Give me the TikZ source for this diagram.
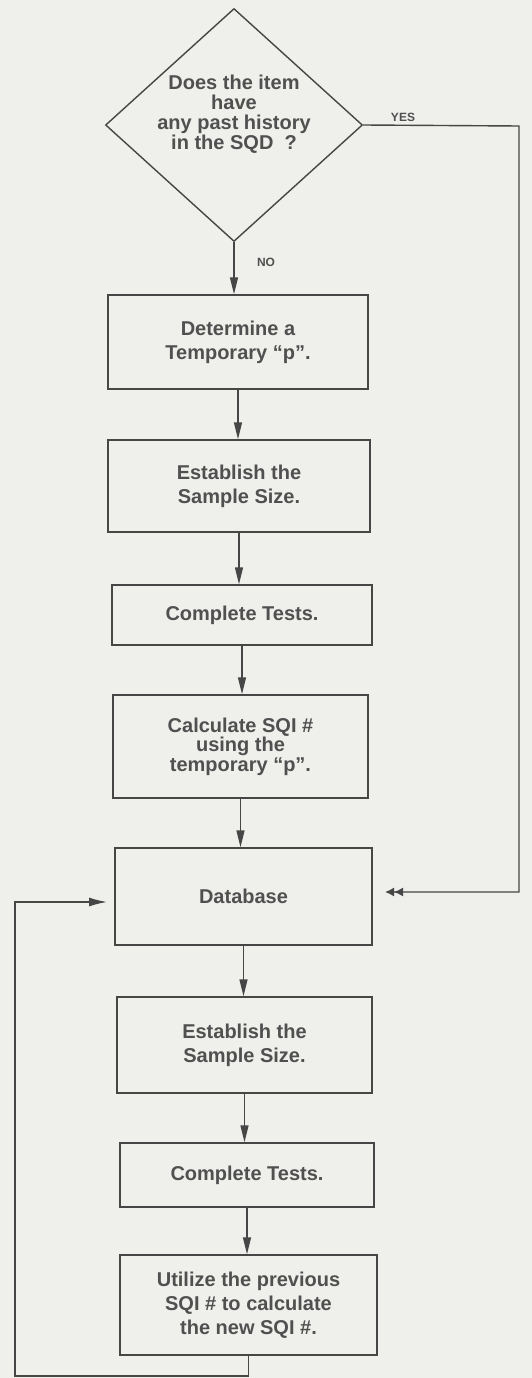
\documentclass[tikz,border=0pt]{standalone}
\usepackage{fontspec}
\setmainfont{Liberation Sans}
\usetikzlibrary{shapes.geometric,arrows.meta}
\definecolor{bgcol}{RGB}{239,239,236}
\definecolor{inkcol}{RGB}{70,70,70}
\definecolor{txtcol}{RGB}{80,80,80}
\tikzset{
  stepbox/.style={draw=inkcol, line width=1.4pt, inner sep=0pt, align=center,
    font=\bfseries\fontsize{20}{24}\selectfont, text=txtcol},
  flow/.style={draw=inkcol, line width=1.4pt, -{Triangle[length=17pt,width=8pt]}},
  loopline/.style={draw=inkcol, line width=1.4pt},
  lbl/.style={font=\bfseries\fontsize{12}{14}\selectfont, text=txtcol, inner sep=0pt},
}
\begin{document}
\begin{tikzpicture}[x=1pt,y=-1pt]
\useasboundingbox (0,0) rectangle (532,1378);
\fill[bgcol] (0,0) rectangle (532,1378);

% decision
\node[diamond, draw=inkcol, line width=1.4pt, inner sep=0pt, minimum width=257pt, minimum height=233pt] (dia) at (234,125) {};
\node[align=center, font=\bfseries\fontsize{20}{20}\selectfont, text=txtcol, inner sep=0pt] (qtext) at (234,114)
  {Does the item\\have\\any past history\\in the SQD\ \ ?};

% boxes
\node[stepbox, minimum width=260pt, minimum height=94pt] (b1) at (238,342) {Determine a\\Temporary ``p''.};
\node[stepbox, minimum width=262pt, minimum height=92pt] (b2) at (239,486) {Establish the\\Sample Size.};
\node[stepbox, minimum width=260pt, minimum height=60pt] (b3) at (242,615) {Complete Tests.};
\node[stepbox, minimum width=255pt, minimum height=103pt, font=\bfseries\fontsize{20}{19.5}\selectfont] (b4) at (240.5,746.5) {Calculate SQI \#\\using the\\temporary ``p''.};
\node[stepbox, minimum width=257pt, minimum height=97pt] (b5) at (243.5,896.5) {Database};
\node[stepbox, minimum width=255pt, minimum height=96pt] (b6) at (244.5,1045) {Establish the\\Sample Size.};
\node[stepbox, minimum width=254pt, minimum height=64pt] (b7) at (247,1175) {Complete Tests.};
\node[stepbox, minimum width=257pt, minimum height=100pt] (b8) at (248.5,1305) {Utilize the previous\\SQI \# to calculate\\the new SQI \#.};

% labels
\node[lbl] (yes) at (403,126) [above=4pt] {YES};
\node[lbl] (no) at (266,262) {NO};

% main flow
\draw[flow] (dia.south) -- (dia.south |- b1.north);
\draw[flow] (b1.south) -- (b1.south |- b2.north);
\draw[flow] (b2.south) -- (b2.south |- b3.north);
\draw[flow] (b3.south) -- (b3.south |- b4.north);
\draw[flow] (b4.south) -- (b4.south |- b5.north);
\draw[flow] (b5.south) -- (b5.south |- b6.north);
\draw[flow] (b6.south) -- (b6.south |- b7.north);
\draw[flow] (b7.south) -- (b7.south |- b8.north);

% YES branch
\coordinate (yr) at (519,126);
\coordinate (yd) at (519,892);
\coordinate (yend) at (385,892);
\draw[loopline, -{Latex[length=9pt,width=9pt]Latex[length=9pt,width=9pt]}] (dia.east) -- (yr) -- (yd) -- (yend);

% feedback loop
\coordinate (lb) at (15,1376);
\coordinate (lt) at (15,902);
\coordinate (lend) at (107,902);
\draw[loopline, -{Latex[length=18pt,width=9pt]}] (b8.south) -- (b8.south |- lb) -- (lb) -- (lt) -- (lend);
\end{tikzpicture}
\end{document}
